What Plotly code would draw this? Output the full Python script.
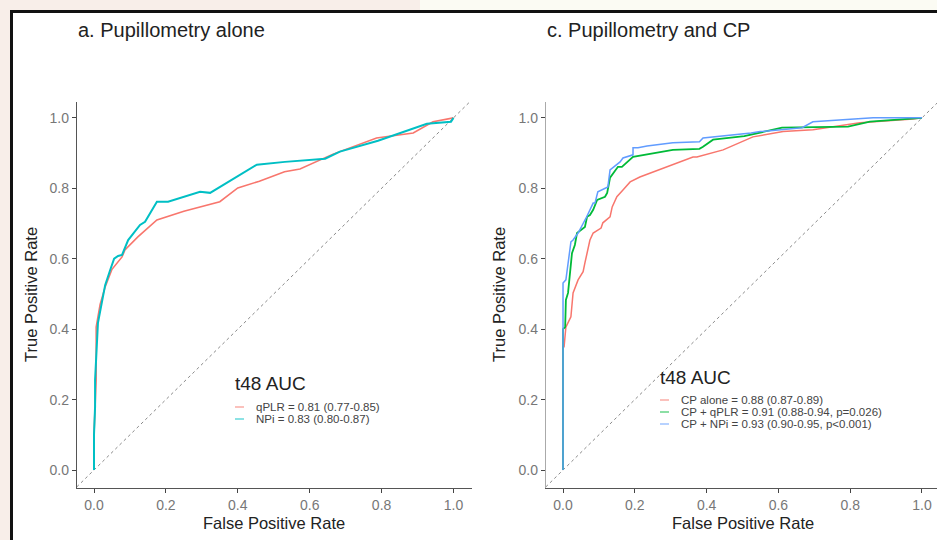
import plotly.graph_objects as go

W, H = 937, 540

# ---------------- data ----------------
# Panel a: pupillometry alone
qplr_fpr = [0, 0, 0.006, 0.006, 0.017, 0.031, 0.05, 0.078, 0.086, 0.122, 0.175, 0.25, 0.35,
            0.40, 0.46, 0.53, 0.573, 0.665, 0.786, 0.888, 0.943, 1.0]
qplr_tpr = [0, 0.10, 0.256, 0.406, 0.47, 0.52, 0.57, 0.605, 0.625, 0.662, 0.71, 0.735, 0.762,
            0.801, 0.82, 0.847, 0.855, 0.897, 0.943, 0.957, 0.989, 1.0]

npi_fpr = [0, 0, 0.003, 0.003, 0.011, 0.031, 0.045, 0.056, 0.067, 0.078, 0.095, 0.128, 0.142,
           0.175, 0.206, 0.295, 0.323, 0.453, 0.531, 0.643, 0.684, 0.79, 0.926, 0.993, 1.0]
npi_tpr = [0, 0.10, 0.18, 0.256, 0.418, 0.525, 0.568, 0.60, 0.608, 0.611, 0.653, 0.696, 0.705,
           0.762, 0.762, 0.79, 0.787, 0.867, 0.875, 0.884, 0.904, 0.935, 0.983, 0.989, 1.0]

# Panel c: pupillometry and CP
cp_fpr = [0, 0, 0.003, 0.008, 0.022, 0.028, 0.042, 0.056, 0.061, 0.07, 0.075, 0.084, 0.106, 0.111,
          0.131, 0.137, 0.150, 0.167, 0.187, 0.214, 0.242, 0.279, 0.29, 0.362, 0.373, 0.446, 0.529,
          0.613, 0.696, 0.827, 0.975, 1.0]
cp_tpr = [0, 0.35, 0.35, 0.406, 0.435, 0.503, 0.54, 0.563, 0.588, 0.625, 0.653, 0.673, 0.687, 0.702,
          0.719, 0.747, 0.776, 0.795, 0.818, 0.832, 0.843, 0.858, 0.861, 0.889, 0.889, 0.909, 0.946,
          0.961, 0.966, 0.986, 0.997, 1.0]

cpq_fpr = [0, 0, 0.006, 0.008, 0.014, 0.019, 0.025, 0.033, 0.039, 0.061, 0.067, 0.075, 0.084, 0.095,
           0.117, 0.123, 0.131, 0.153, 0.164, 0.195, 0.251, 0.306, 0.38, 0.39, 0.418, 0.505, 0.61,
           0.794, 0.855, 0.958, 1.0]
cpq_tpr = [0, 0.40, 0.406, 0.483, 0.503, 0.56, 0.616, 0.639, 0.673, 0.69, 0.719, 0.724, 0.739, 0.767,
           0.776, 0.787, 0.83, 0.861, 0.861, 0.889, 0.90, 0.909, 0.912, 0.918, 0.938, 0.948, 0.972,
           0.975, 0.989, 0.997, 1.0]

cpn_fpr = [0, 0, 0.008, 0.019, 0.022, 0.028, 0.042, 0.056, 0.064, 0.084, 0.089, 0.097, 0.125, 0.131,
           0.159, 0.167, 0.195, 0.195, 0.209, 0.234, 0.306, 0.38, 0.39, 0.524, 0.549, 0.666, 0.696,
           0.864, 1.0]
cpn_tpr = [0, 0.531, 0.54, 0.625, 0.648, 0.653, 0.673, 0.70, 0.715, 0.758, 0.758, 0.79, 0.804, 0.852,
           0.875, 0.886, 0.895, 0.915, 0.915, 0.92, 0.929, 0.932, 0.943, 0.957, 0.961, 0.972, 0.989,
           1.0, 1.0]

ref_line = [-0.06, 1.06]

tick_vals = [0, 0.2, 0.4, 0.6, 0.8, 1.0]
tick_text = ["0.0", "0.2", "0.4", "0.6", "0.8", "1.0"]

panel_titles = ["a. Pupillometry alone", "c. Pupillometry and CP"]
legend_title = "t48 AUC"
legend_a = ["qPLR = 0.81 (0.77-0.85)", "NPi = 0.83 (0.80-0.87)"]
legend_c = ["CP alone = 0.88 (0.87-0.89)",
            "CP + qPLR = 0.91 (0.88-0.94, p=0.026)",
            "CP + NPi = 0.93 (0.90-0.95, p<0.001)"]
x_title = "False Positive Rate"
y_title = "True Positive Rate"

RED, CYAN = "#F8766D", "#00BFC4"
RED3, GREEN3, BLUE3 = "#F8766D", "#00BA38", "#619CFF"

FONT = "Liberation Sans, Arial, Helvetica, sans-serif"


def px(x):
    return x / W


def py(y):
    return 1 - y / H


fig = go.Figure()

# diagonal reference lines
for xa, ya in [("x", "y"), ("x2", "y2")]:
    fig.add_trace(go.Scatter(x=ref_line, y=ref_line, mode="lines", xaxis=xa, yaxis=ya,
                             line=dict(color="#8a8a8a", width=1, dash="dot"),
                             showlegend=False, hoverinfo="skip"))

fig.add_trace(go.Scatter(x=qplr_fpr, y=qplr_tpr, mode="lines", xaxis="x", yaxis="y",
                         line=dict(color=RED, width=1.6), showlegend=False))
fig.add_trace(go.Scatter(x=npi_fpr, y=npi_tpr, mode="lines", xaxis="x", yaxis="y",
                         line=dict(color=CYAN, width=2), showlegend=False))

fig.add_trace(go.Scatter(x=cp_fpr, y=cp_tpr, mode="lines", xaxis="x2", yaxis="y2",
                         line=dict(color=RED3, width=1.5), showlegend=False))
fig.add_trace(go.Scatter(x=cpq_fpr, y=cpq_tpr, mode="lines", xaxis="x2", yaxis="y2",
                         line=dict(color=GREEN3, width=1.8), showlegend=False))
fig.add_trace(go.Scatter(x=cpn_fpr, y=cpn_tpr, mode="lines", xaxis="x2", yaxis="y2",
                         line=dict(color=BLUE3, width=1.5), showlegend=False))

axis_common = dict(showgrid=False, zeroline=False, showline=True, linewidth=1.3,
                   ticks="outside", ticklen=4, tickwidth=1, tickcolor="#444",
                   tickvals=tick_vals, ticktext=tick_text,
                   tickfont=dict(family=FONT, size=14, color="#777"))

ydom = [py(488), py(102)]
fig.update_layout(
    width=W, height=H,
    margin=dict(l=0, r=0, t=0, b=0),
    paper_bgcolor="#f8eee9",
    plot_bgcolor="rgba(0,0,0,0)",
    font=dict(family=FONT),
    xaxis=dict(domain=[px(77), px(472)], range=[-0.0473, 1.0515], anchor="y",
               linecolor="#555", **axis_common),
    yaxis=dict(domain=ydom, range=[-0.051, 1.045], anchor="x",
               linecolor="#555", **axis_common),
    xaxis2=dict(domain=[px(546), 1.0], range=[-0.0474, 1.0418], anchor="y2",
                linecolor="#555", **axis_common),
    yaxis2=dict(domain=ydom, range=[-0.051, 1.045], anchor="x2",
                linecolor="#aaa", **axis_common),
)

shapes = [
    # cream strip at top right
    dict(type="rect", xref="paper", yref="paper", x0=px(420), x1=1.0, y0=py(12), y1=1.0,
         fillcolor="#fbfbf3", line=dict(width=0), layer="below"),
    # white figure area with black frame
    dict(type="rect", xref="paper", yref="paper", x0=px(11.5), x1=px(960), y0=py(560), y1=py(11.5),
         fillcolor="white", line=dict(color="#111", width=3), layer="below"),
]

annotations = []
# panel titles
for t, x in zip(panel_titles, [76, 545]):
    annotations.append(dict(text=t, x=px(x), y=py(30), xref="paper", yref="paper",
                            xanchor="left", yanchor="middle", showarrow=False,
                            font=dict(family=FONT, size=20, color="#222")))
# axis titles
for cx in [274, 743]:
    annotations.append(dict(text=x_title, x=px(cx), y=py(523), xref="paper", yref="paper",
                            xanchor="center", yanchor="middle", showarrow=False,
                            font=dict(family=FONT, size=16.5, color="#222")))
for cx in [31, 499]:
    annotations.append(dict(text=y_title, x=px(cx), y=py(295), xref="paper", yref="paper",
                            xanchor="center", yanchor="middle", showarrow=False, textangle=-90,
                            font=dict(family=FONT, size=16.5, color="#222")))


# legends
def add_legend(x_key, y_title_px, y_first, labels, colors):
    annotations.append(dict(text=legend_title, x=px(x_key - 2), y=py(y_title_px), xref="paper",
                            yref="paper", xanchor="left", yanchor="middle", showarrow=False,
                            font=dict(family=FONT, size=19, color="#222")))
    for i, (lab, col) in enumerate(zip(labels, colors)):
        yy = y_first + 12 * i
        shapes.append(dict(type="line", xref="paper", yref="paper",
                           x0=px(x_key), x1=px(x_key + 9), y0=py(yy), y1=py(yy),
                           line=dict(color=col, width=1.5), opacity=0.6))
        annotations.append(dict(text=lab, x=px(x_key + 19), y=py(yy), xref="paper",
                                yref="paper", xanchor="left", yanchor="middle", showarrow=False,
                                font=dict(family=FONT, size=11.5, color="#444")))


add_legend(235, 383, 407, legend_a, [RED, CYAN])
add_legend(660, 377, 400, legend_c, [RED3, GREEN3, BLUE3])

fig.update_layout(shapes=shapes, annotations=annotations)

fig.write_html("out.html",
               config={"displayModeBar": False},
               post_script="document.body.style.margin='0';document.body.style.overflow='hidden';")
